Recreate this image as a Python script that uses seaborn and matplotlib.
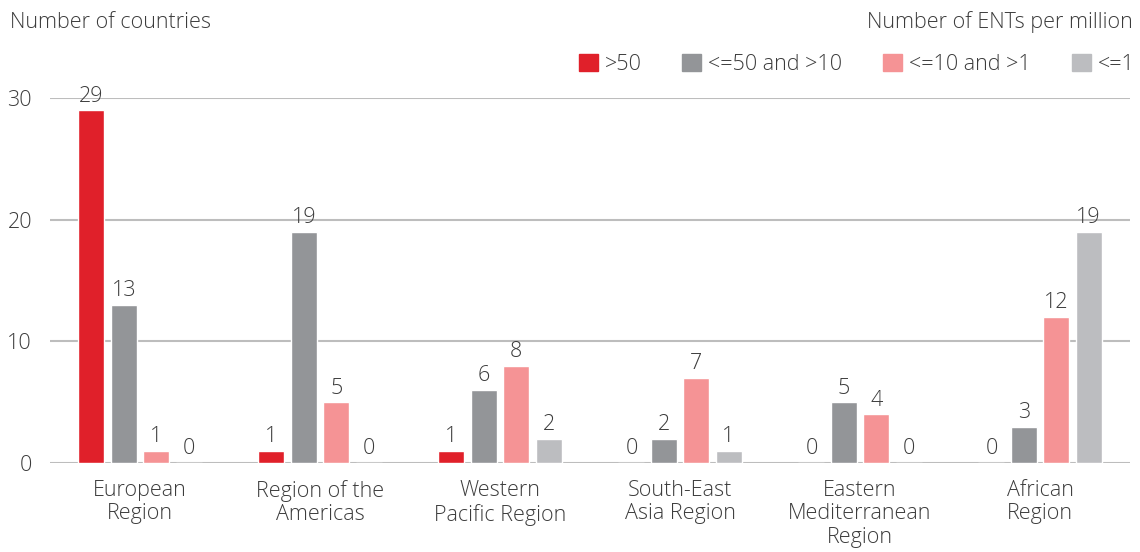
import matplotlib
matplotlib.use("Agg")
import matplotlib.pyplot as plt
import matplotlib.patches as mpatches
import seaborn as sns
import pandas as pd

regions = ["European\nRegion", "Region of the\nAmericas", "Western\nPacific Region",
           "South-East\nAsia Region", "Eastern\nMediterranean\nRegion", "African\nRegion"]
groups = [">50", "<=50 and >10", "<=10 and >1", "<=1"]
v_gt50 = [29, 1, 1, 0, 0, 0]
v_10_50 = [13, 19, 6, 2, 5, 3]
v_1_10 = [1, 5, 8, 7, 4, 12]
v_le1 = [0, 0, 2, 1, 0, 19]
colors = ["#E0202A", "#939598", "#F59395", "#BCBDC0"]
yticks = [0, 10, 20, 30]

series = [v_gt50, v_10_50, v_1_10, v_le1]
rows = []
for g, vals in zip(groups, series):
    for r, v in zip(regions, vals):
        rows.append({"region": r, "group": g, "value": v})
df = pd.DataFrame(rows)

sns.set_theme(style="white")
plt.rcParams["font.family"] = ["Open Sans", "DejaVu Sans"]
plt.rcParams["font.weight"] = "light"
txt = "#3c3c3c"
fs = 15.5

fig = plt.figure(figsize=(11.4, 5.52), dpi=100)
ax = fig.add_axes([50 / 1140, 89 / 552, 1080 / 1140, (463 - 98) / 552])

sns.barplot(data=df, x="region", y="value", hue="group", order=regions,
            hue_order=groups, palette=colors, width=0.72, gap=0.2,
            saturation=1, legend=False, ax=ax)

ax.set_ylim(0, 30)
ax.set_xlim(-0.5, 5.5)
ax.set_yticks(yticks)
ax.yaxis.grid(True, color="#BDBDBD", linewidth=1.5)
ax.set_axisbelow(True)
for s in ax.spines.values():
    s.set_visible(False)
ax.set_xlabel("")
ax.set_ylabel("")
ax.tick_params(axis="y", length=0, pad=13, labelsize=fs, labelcolor=txt)
ax.tick_params(axis="x", length=0, pad=12, labelsize=fs, labelcolor=txt)
for lab in ax.get_xticklabels():
    lab.set_linespacing(1.17)

for cont in ax.containers:
    for bar in cont:
        h = bar.get_height()
        ax.text(bar.get_x() + bar.get_width() / 2, h + 0.3, f"{int(round(h))}",
                ha="center", va="bottom", fontsize=fs, color=txt)

fig.text(10 / 1140, 1 - 22 / 552, "Number of countries", ha="left", va="center",
         fontsize=fs, color=txt)
fig.text(1133 / 1140, 1 - 22 / 552, "Number of ENTs per million", ha="right",
         va="center", fontsize=fs, color=txt)

handles = [mpatches.Patch(color=c, label=g) for c, g in zip(colors, groups)]
leg = fig.legend(handles=handles, loc="center right", bbox_to_anchor=(1135 / 1140, 1 - 64.5 / 552),
                 ncol=4, frameon=False, fontsize=fs, handlelength=0.88, handleheight=0.88,
                 handletextpad=0.33, columnspacing=1.9, borderaxespad=0, borderpad=0)
for t in leg.get_texts():
    t.set_color(txt)

fig.savefig("out.png", dpi=100)
